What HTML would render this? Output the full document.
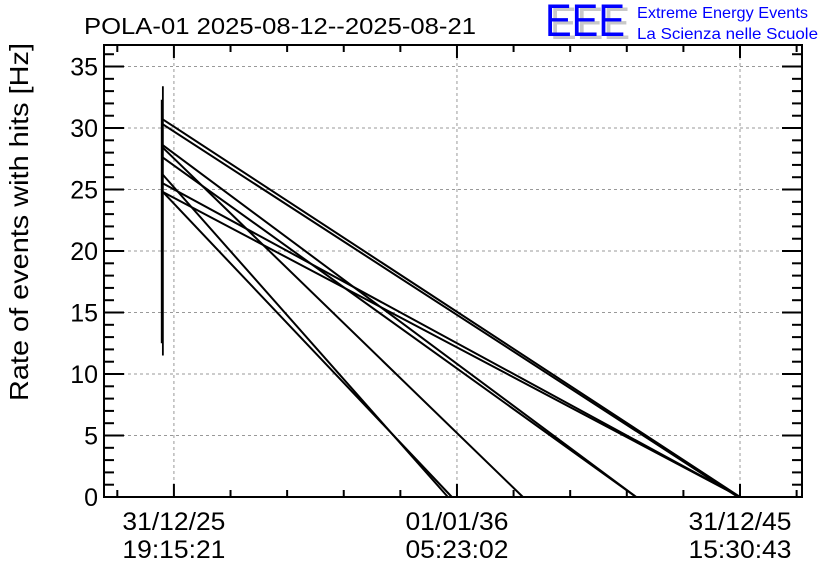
<!DOCTYPE html>
<html><head><meta charset="utf-8"><style>
body{margin:0;background:#fff;}
svg{display:block;font-family:"Liberation Sans",sans-serif;}
</style></head><body>
<svg id="chart" width="836" height="572" viewBox="0 0 836 572" xmlns="http://www.w3.org/2000/svg">
<rect width="836" height="572" fill="#fff"/>
<text x="84" y="34" font-size="23" fill="#000" textLength="392" lengthAdjust="spacingAndGlyphs">POLA-01 2025-08-12--2025-08-21</text>
<g>
<text x="550" y="39" font-size="45" fill="#c8c8c8" textLength="80" lengthAdjust="spacingAndGlyphs">EEE</text>
<text x="545" y="36" font-size="45" fill="#0000ff" textLength="80" lengthAdjust="spacingAndGlyphs">EEE</text>
<text x="637" y="18" font-size="16" fill="#0000ff" textLength="171" lengthAdjust="spacingAndGlyphs">Extreme Energy Events</text>
<text x="637" y="39" font-size="16" fill="#0000ff" textLength="181" lengthAdjust="spacingAndGlyphs">La Scienza nelle Scuole</text>
</g>
<text transform="translate(28,222) rotate(-90)" text-anchor="middle" font-size="26" fill="#000" textLength="358" lengthAdjust="spacingAndGlyphs">Rate of events with hits [Hz]</text>
<g id="grid"></g>
<g id="series"></g>
<g id="axes"></g>
</svg>
<script>
// data (x in years relative to first tick 31/12/25 19:15:21)
const yTicks=[0,5,10,15,20,25,30,35];
const xTickValues=[0,10,20];
const xTickLabels1=["31/12/25","01/01/36","31/12/45"];
const xTickLabels2=["19:15:21","05:23:02","15:30:43"];
const segStartX=[-0.39,-0.39,-0.39,-0.39,-0.39,-0.39,-0.39,-0.39,-0.39];
const segStartY=[30.7,30.3,28.6,28.4,27.6,26.2,25.5,24.8,24.8];
const segEndX=[20.0,19.93,16.33,12.33,16.33,9.68,20.0,20.0,9.82];
const segEndY=[0,0,0,0,0,0,0,0,0];
const vertX=[-0.42,-0.39];
const vertYLow=[12.5,11.5];
const vertYHigh=[32.3,33.4];

const L=104,R=802,T=45,B=497;
const xMin=-2.47,xMax=22.19,yMin=0,yMax=36.75;
const sx=v=>L+(v-xMin)/(xMax-xMin)*(R-L);
const sy=v=>B-(v-yMin)/(yMax-yMin)*(B-T);
const NS="http://www.w3.org/2000/svg";
function mk(tag,attrs,parent){const e=document.createElementNS(NS,tag);for(const k in attrs)e.setAttribute(k,attrs[k]);parent.appendChild(e);return e;}
const grid=document.getElementById('grid'),series=document.getElementById('series'),axes=document.getElementById('axes');

yTicks.forEach(v=>{const g=mk('line',{x1:L,x2:R,y1:sy(v),y2:sy(v),stroke:'#999','stroke-dasharray':'3,3','stroke-width':1},grid);

});
xTickValues.forEach(v=>{const g=mk('line',{x1:sx(v),x2:sx(v),y1:T,y2:B,stroke:'#999','stroke-dasharray':'3,3','stroke-width':1},grid);

});

for(let i=0;i<segStartY.length;i++){
const l=mk('line',{x1:sx(segStartX[i]),y1:sy(segStartY[i]),x2:sx(segEndX[i]),y2:sy(segEndY[i]),stroke:'#000','stroke-width':2},series);

}
for(let i=0;i<vertX.length;i++){
const l=mk('line',{x1:sx(vertX[i]),x2:sx(vertX[i]),y1:sy(vertYLow[i]),y2:sy(vertYHigh[i]),stroke:'#000','stroke-width':i==0?2.4:1.8},series);

}

const fr=mk('rect',{x:L,y:T,width:R-L,height:B-T,fill:'none',stroke:'#000','stroke-width':2},axes);


for(let v=0;v<=36;v++){const maj=v%5==0,len=maj?20:10;
mk('line',{x1:L,x2:L+len,y1:sy(v),y2:sy(v),stroke:'#000','stroke-width':2},axes);
mk('line',{x1:R,x2:R-len,y1:sy(v),y2:sy(v),stroke:'#000','stroke-width':2},axes);
if(maj){const t=mk('text',{x:L-6,y:sy(v)+9,'text-anchor':'end','font-size':25,fill:'#000'},axes);t.textContent=v;

}}
for(let k=-4;k<=44;k++){const v=k*2;const xv=sx(v);if(xv<L+1||xv>R-1)continue;const maj=k%5==0,len=maj?13:7;
mk('line',{x1:xv,x2:xv,y1:B,y2:B-len,stroke:'#000','stroke-width':2},axes);
mk('line',{x1:xv,x2:xv,y1:T,y2:T+len,stroke:'#000','stroke-width':2},axes);}
xTickValues.forEach((v,i)=>{
const t1=mk('text',{x:sx(v),y:530,'text-anchor':'middle','font-size':25,fill:'#000',textLength:103,lengthAdjust:'spacingAndGlyphs'},axes);t1.textContent=xTickLabels1[i];


const t2=mk('text',{x:sx(v),y:558,'text-anchor':'middle','font-size':25,fill:'#000',textLength:103,lengthAdjust:'spacingAndGlyphs'},axes);t2.textContent=xTickLabels2[i];

});
</script>
</body></html>
